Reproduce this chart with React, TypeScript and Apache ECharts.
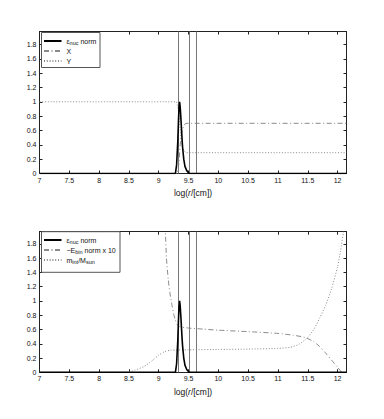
import React, { useEffect, useRef } from "react";
import * as echarts from "echarts";

// ---- data ----
const X_TICKS_MIN = 7;
const X_MAX = 12.15;
const Y_MAX_TOP = 1.98;
const Y_MAX_BOT = 1.97;
const VLINES = [9.33, 9.51, 9.63];

const EPS_R = [7, 9.28, 9.3, 9.32, 9.33, 9.34, 9.35, 9.36, 9.37, 9.38, 9.39, 9.4, 9.42, 9.44, 9.47, 9.51, 12.15];
const EPS_V = [0, 0, 0.12, 0.45, 0.7, 0.92, 1.0, 0.93, 0.8, 0.65, 0.5, 0.37, 0.2, 0.1, 0.04, 0, 0];

const XH_R = [7, 9.31, 9.34, 9.36, 9.38, 9.4, 9.43, 9.46, 12.15];
const XH_V = [0, 0, 0.15, 0.4, 0.55, 0.62, 0.68, 0.7, 0.7];

const YHE_R = [7, 9.3, 9.34, 9.36, 9.38, 9.4, 9.43, 9.46, 12.15];
const YHE_V = [1, 1, 0.85, 0.6, 0.45, 0.36, 0.31, 0.29, 0.29];

const EBIN_R = [9.09, 9.11, 9.13, 9.16, 9.19, 9.22, 9.25, 9.28, 9.31, 9.35, 9.5, 9.75, 10, 10.5, 11, 11.25, 11.45, 11.6, 11.7, 11.8, 11.9, 12, 12.07, 12.12];
const EBIN_V = [2.05, 1.97, 1.6, 1.3, 1.1, 0.95, 0.82, 0.73, 0.67, 0.64, 0.62, 0.605, 0.59, 0.57, 0.545, 0.52, 0.49, 0.43, 0.36, 0.27, 0.17, 0.07, 0.0, -0.05];

const MINT_R = [7, 8.45, 8.6, 8.75, 8.9, 9.0, 9.1, 9.2, 9.5, 10, 10.5, 11, 11.2, 11.35, 11.5, 11.6, 11.7, 11.8, 11.9, 12.0, 12.05, 12.1, 12.13];
const MINT_V = [0, 0, 0.03, 0.08, 0.17, 0.24, 0.29, 0.31, 0.315, 0.32, 0.325, 0.335, 0.35, 0.39, 0.49, 0.6, 0.76, 0.94, 1.17, 1.48, 1.7, 1.97, 2.1];

const zip = (a: number[], b: number[]) => a.map((v, i) => [v, b[i]]);

const FONT = "Liberation Sans, Arial, Helvetica, sans-serif";
const AX = "#222";
const GRAY = "#8a8a8a";

const LEGEND_TEXT: Record<string, string> = {
  eps: "{g|ε}{s|nuc} norm",
  X: "X",
  Y: "Y",
  Ebin: "−E{s|bin} norm x 10",
  mint: "m{s|int}/M{s|sun}",
};

export default function App() {
  const ref = useRef<HTMLDivElement>(null);
  useEffect(() => {
    document.body.style.margin = "0";
    const chart = echarts.init(ref.current!, null, { renderer: "svg" });

    const grids = [
      { left: 39.5, top: 31.5, width: 307, height: 142 },
      { left: 39.5, top: 231.7, width: 307, height: 140.6 },
    ];
    const xLabelFmt = (v: number) =>
      Math.abs(v * 2 - Math.round(v * 2)) < 1e-6 ? String(Math.round(v * 2) / 2) : "";
    const yLabelFmt = (v: number) =>
      Math.abs(v * 5 - Math.round(v * 5)) < 1e-6 ? String(Math.round(v * 5) / 5) : "";

    const xAxes: any[] = [];
    const yAxes: any[] = [];
    grids.forEach((_, gi) => {
      const common = {
        type: "value",
        gridIndex: gi,
        min: X_TICKS_MIN,
        max: X_MAX,
        interval: 0.5,
        splitLine: { show: false },
        axisLine: { show: true, onZero: false, lineStyle: { color: AX, width: 1 } },
        axisTick: { show: true, inside: true, length: 3, lineStyle: { color: AX } },
      };
      xAxes.push({
        ...common,
        position: "bottom",
        axisLabel: { fontSize: 7, color: "#111", fontFamily: FONT, margin: 3, formatter: xLabelFmt },
        name: "log({i|r}/[cm])",
        nameLocation: "middle",
        nameGap: 15,
        nameTextStyle: {
          fontSize: 8.5,
          color: "#111",
          fontFamily: FONT,
          rich: { i: { fontStyle: "italic", fontSize: 8.5, fontFamily: FONT, color: "#111" } },
        },
      });
      xAxes.push({ ...common, position: "top", axisLabel: { show: false } });
      const ymax = gi === 0 ? Y_MAX_TOP : Y_MAX_BOT;
      const ycommon = {
        type: "value",
        gridIndex: gi,
        min: 0,
        max: ymax,
        interval: 0.2,
        splitLine: { show: false },
        axisLine: { show: true, onZero: false, lineStyle: { color: AX, width: 1 } },
        axisTick: { show: true, inside: true, length: 3, lineStyle: { color: AX } },
      };
      yAxes.push({
        ...ycommon,
        position: "left",
        axisLabel: { fontSize: 7, color: "#111", fontFamily: FONT, margin: 3, formatter: yLabelFmt },
      });
      yAxes.push({ ...ycommon, position: "right", axisLabel: { show: false } });
    });

    const epsSeries = (gi: number) => ({
      name: "eps",
      type: "line",
      xAxisIndex: gi * 2,
      yAxisIndex: gi * 2,
      data: zip(EPS_R, EPS_V),
      symbol: "none",
      lineStyle: { color: "#000", width: 1.6, type: "solid" },
      itemStyle: { color: "#000" },
      z: 5,
      markLine: {
        silent: true,
        symbol: ["none", "none"],
        label: { show: false },
        lineStyle: { color: "#777", width: 1, type: "solid" },
        data: VLINES.map((v) => ({ xAxis: v })),
      },
    });

    const dashdot = [5, 2.5, 1, 2.5];
    const dotted = [1, 1.8];

    const series: any[] = [
      epsSeries(0),
      {
        name: "X",
        type: "line",
        xAxisIndex: 0,
        yAxisIndex: 0,
        data: zip(XH_R, XH_V),
        symbol: "none",
        lineStyle: { color: GRAY, width: 1, type: dashdot },
        itemStyle: { color: GRAY },
      },
      {
        name: "Y",
        type: "line",
        xAxisIndex: 0,
        yAxisIndex: 0,
        data: zip(YHE_R, YHE_V),
        symbol: "none",
        lineStyle: { color: GRAY, width: 1, type: dotted },
        itemStyle: { color: GRAY },
      },
      epsSeries(1),
      {
        name: "Ebin",
        type: "line",
        xAxisIndex: 2,
        yAxisIndex: 2,
        data: zip(EBIN_R, EBIN_V),
        symbol: "none",
        smooth: 0.2,
        lineStyle: { color: GRAY, width: 1, type: dashdot },
        itemStyle: { color: GRAY },
      },
      {
        name: "mint",
        type: "line",
        xAxisIndex: 2,
        yAxisIndex: 2,
        data: zip(MINT_R, MINT_V),
        symbol: "none",
        smooth: 0.2,
        lineStyle: { color: GRAY, width: 1, type: dotted },
        itemStyle: { color: GRAY },
      },
    ];

    const rich = {
      g: { fontSize: 7, fontFamily: FONT, color: "#111", lineHeight: 10 },
      s: { fontSize: 5.5, fontFamily: FONT, color: "#111", lineHeight: 5, verticalAlign: "bottom" },
    };
    const legendBase = {
      orient: "vertical",
      left: 43,
      itemWidth: 17.5,
      itemHeight: 8,
      itemGap: 0,
      padding: 0,
      selectedMode: false,
      z: 10,
      itemStyle: { opacity: 0 },
      textStyle: { fontSize: 7, fontFamily: FONT, color: "#111", lineHeight: 10, rich },
      formatter: (n: string) => LEGEND_TEXT[n] ?? n,
    };

    chart.setOption({
      animation: false,
      backgroundColor: "#fff",
      grid: grids,
      xAxis: xAxes,
      yAxis: yAxes,
      graphic: [
        {
          type: "rect",
          z: 9,
          shape: { x: 41.5, y: 32.5, width: 58.5, height: 35 },
          style: { fill: "#fff", stroke: "#555", lineWidth: 1 },
        },
        {
          type: "rect",
          z: 9,
          shape: { x: 41.5, y: 231.7, width: 78.5, height: 40.6 },
          style: { fill: "#fff", stroke: "#555", lineWidth: 1 },
        },
      ],
      legend: [
        { ...legendBase, top: 36, data: ["eps", "X", "Y"] },
        { ...legendBase, top: 235, data: ["eps", "Ebin", "mint"] },
      ],
      series,
    });
    return () => chart.dispose();
  }, []);
  return <div ref={ref} style={{ width: 384, height: 419 }} />;
}
